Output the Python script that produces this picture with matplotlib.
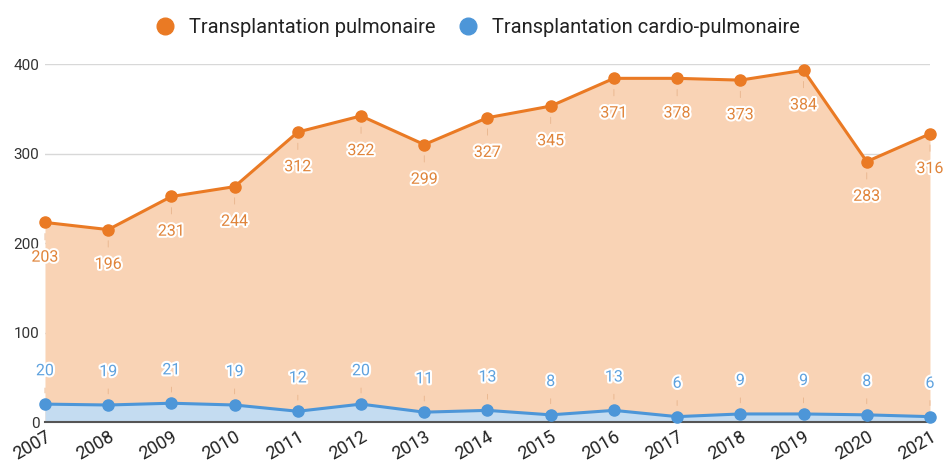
import matplotlib.pyplot as plt
import matplotlib.patheffects as pe
import matplotlib.transforms as mtransforms
import numpy as np

plt.rcParams['font.family'] = ['Roboto', 'DejaVu Sans']

# Donnees
annees = list(range(2007, 2022))
pulmonaire = [203, 196, 231, 244, 312, 322, 299, 327, 345, 371, 378, 373, 384, 283, 316]
cardio_pulmonaire = [20, 19, 21, 19, 12, 20, 11, 13, 8, 13, 6, 9, 9, 8, 6]

orange = "#EA7A24"
orange_fond = "#F9D3B5"
bleu = "#4D96D8"
bleu_fond = "#C4DCF1"

x = np.array(annees)
cardio = np.array(cardio_pulmonaire)
total = cardio + np.array(pulmonaire)  # aire empilee

fig = plt.figure(figsize=(9.45, 4.69), dpi=100)
ax = fig.add_axes([0.0476, 0.1002, 0.9365, 0.7633])

ax.fill_between(x, 0, total, color=orange_fond, lw=0, zorder=1)
ax.fill_between(x, 0, cardio, color=bleu_fond, lw=0, zorder=2)
ax.plot(x, total, color=orange, lw=2.2, marker="o", ms=8, zorder=5, clip_on=False)
ax.plot(x, cardio, color=bleu, lw=2.2, marker="o", ms=8, zorder=5, clip_on=False)

halo = [pe.withStroke(linewidth=3, foreground="white")]
for xi, t, v in zip(x, total, pulmonaire):
    ax.annotate(str(v), (xi, t), xytext=(0, -25), textcoords="offset points",
                ha="center", va="center", fontsize=11.5, color="#E0843A",
                path_effects=halo, zorder=6,
                arrowprops=dict(arrowstyle="-", color="#E8B48C", lw=0.6,
                                shrinkA=5, shrinkB=8))
for xi, c in zip(x, cardio):
    ax.annotate(str(c), (xi, c), xytext=(0, 24), textcoords="offset points",
                ha="center", va="center", fontsize=11.5, color="#5FA2DE",
                path_effects=halo, zorder=6,
                arrowprops=dict(arrowstyle="-", color="#E8B48C", lw=0.6,
                                shrinkA=5, shrinkB=8))

ax.set_xlim(2007, 2021)
ax.set_ylim(0, 400)
ax.set_yticks([0, 100, 200, 300, 400])
ax.set_xticks(annees)
ax.set_xticklabels([str(a) for a in annees], rotation=30, fontsize=13, color="#222222",
                   ha="right", rotation_mode="anchor")
decal = mtransforms.ScaledTranslation(8 / 72, 0, fig.dpi_scale_trans)
for lab in ax.get_xticklabels():
    lab.set_transform(lab.get_transform() + decal)
ax.tick_params(axis="y", labelsize=11, colors="#333333", length=0, pad=4)
ax.tick_params(axis="x", length=0, pad=4)
ax.grid(axis="y", color="#D8D8D8", lw=1, zorder=0)
ax.set_axisbelow(True)
for s in ["top", "right", "left"]:
    ax.spines[s].set_visible(False)
ax.spines["bottom"].set_color("#555555")
ax.spines["bottom"].set_linewidth(1.5)
ax.spines["bottom"].set_zorder(4)

h1 = plt.Line2D([], [], color=orange, marker="o", ls="", ms=12)
h2 = plt.Line2D([], [], color=bleu, marker="o", ls="", ms=12)
fig.legend([h1, h2], ["Transplantation pulmonaire", "Transplantation cardio-pulmonaire"],
           loc="center", bbox_to_anchor=(0.5, 0.942), ncol=2, frameon=False,
           fontsize=14.5, handletextpad=0.2, columnspacing=0.6, labelcolor="#222222")

fig.savefig("out.png", dpi=100)
